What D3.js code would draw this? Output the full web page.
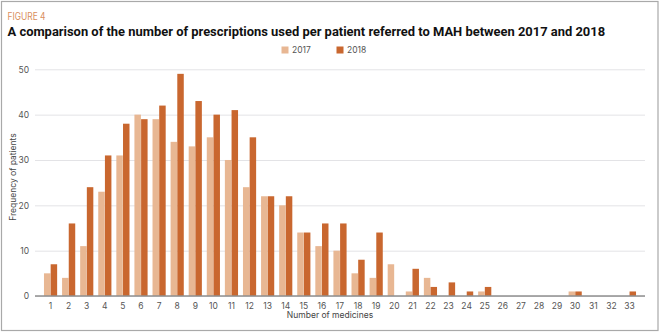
<!DOCTYPE html>
<html>
<head>
<meta charset="utf-8">
<script src="https://cdn.jsdelivr.net/npm/d3@7"></script>
<style>
  html, body { margin: 0; padding: 0; background: #ffffff; }
  svg { display: block; }
  text { font-family: "Inter", "Roboto", "Liberation Sans", sans-serif; }
</style>
</head>
<body>
<svg id="chart" width="660" height="332"></svg>
<script>
// Number of medicines (x categories)
const medicines = d3.range(1, 34).map(String);
// Frequency of patients per number of medicines
const values2017 = [5, 4, 11, 23, 31, 40, 39, 34, 33, 35, 30, 24, 22, 20, 14, 11, 10, 5, 4, 7, 1, 4, 0, 0, 1, 0, 0, 0, 0, 1, 0, 0, 0];
const values2018 = [7, 16, 24, 31, 38, 39, 42, 49, 43, 40, 41, 35, 22, 22, 14, 16, 16, 8, 14, 0, 6, 2, 3, 1, 2, 0, 0, 0, 0, 1, 0, 0, 1];
const seriesNames = ["2017", "2018"];
const seriesColors = ["#e8b793", "#c9672f"];
const yTicks = [0, 10, 20, 30, 40, 50];

const svg = d3.select("#chart");
const W = 660, H = 332;

// outer frame
svg.append("rect")
  .attr("x", 1.5).attr("y", 1.5)
  .attr("width", W - 3.5).attr("height", H - 3)
  .attr("fill", "#ffffff")
  .attr("stroke", "#a9a9a9").attr("stroke-width", 1.2);

// headings
svg.append("text")
  .attr("x", 7.5).attr("y", 19.5)
  .attr("font-size", 10).attr("fill", "#d98e5c")
  .attr("textLength", 38).attr("lengthAdjust", "spacingAndGlyphs")
  .text("FIGURE 4");

// main title: shrink the font until it fits the available width
const title = svg.append("text")
  .attr("x", 7.5).attr("y", 36)
  .attr("font-weight", 700).attr("fill", "#111")
  .style("font-family", "Roboto, sans-serif")
  .attr("font-size", 14)
  .text("A comparison of the number of prescriptions used per patient referred to MAH between 2017 and 2018");
{
  const target = 598;
  const w = title.node().getComputedTextLength();
  if (w > target) {
    const fs = 14 * target / w;
    title.attr("font-size", fs);
  }
}

const plot = { left: 35, right: 645, top: 69.3, bottom: 296 };

const x = d3.scaleBand()
  .domain(medicines)
  .range([plot.left, plot.right])
  .paddingInner(0.25)
  .paddingOuter(0.485);

const xs = d3.scaleBand()
  .domain(seriesNames)
  .range([0, x.bandwidth()])
  .padding(0.03);

const y = d3.scaleLinear()
  .domain([0, 50])
  .range([plot.bottom, plot.top]);

// gridlines + y labels
const yAxis = d3.axisLeft(y)
  .tickValues(yTicks)
  .tickSize(-(plot.right - plot.left))
  .tickPadding(6);

const gy = svg.append("g")
  .attr("transform", `translate(${plot.left},0)`)
  .call(yAxis);
gy.select(".domain").remove();
gy.selectAll(".tick line").attr("stroke", "#e3e3e6").attr("stroke-width", 1);
gy.selectAll(".tick text")
  .attr("font-size", 8.5).attr("fill", "#555")
  .attr("font-family", "Inter, Roboto, sans-serif");

// bars
const rows = medicines.map((m, i) => ({ m, vals: [values2017[i], values2018[i]] }));

const groups = svg.append("g").selectAll("g")
  .data(rows)
  .join("g")
  .attr("transform", d => `translate(${x(d.m)},0)`);

groups.selectAll("rect")
  .data(d => d.vals.map((v, k) => ({ v, k })))
  .join("rect")
  .attr("x", d => xs(seriesNames[d.k]))
  .attr("width", xs.bandwidth())
  .attr("y", d => y(d.v))
  .attr("height", d => y(0) - y(d.v))
  .attr("fill", d => seriesColors[d.k]);

// x axis
const xAxis = d3.axisBottom(x).tickSize(0).tickPadding(7);
const gx = svg.append("g")
  .attr("transform", `translate(0,${plot.bottom})`)
  .call(xAxis);
gx.select(".domain")
  .attr("stroke", "#8f8f8f").attr("stroke-width", 1.5)
  .attr("d", `M${plot.left},0H${plot.right}`);
gx.selectAll(".tick text")
  .attr("font-size", 8.5).attr("fill", "#555")
  .attr("font-family", "Inter, Roboto, sans-serif");

// axis titles
svg.append("text")
  .attr("x", 330).attr("y", 318)
  .attr("text-anchor", "middle")
  .attr("font-size", 8.5).attr("fill", "#444")
  .text("Number of medicines");

svg.append("text")
  .attr("transform", `translate(15.5,177) rotate(-90)`)
  .attr("text-anchor", "middle")
  .attr("font-size", 8.5).attr("fill", "#444")
  .text("Frequency of patients");

// legend
const legendX = [281.5, 336.5];
const legend = svg.append("g").selectAll("g")
  .data(seriesNames)
  .join("g")
  .attr("transform", (d, i) => `translate(${legendX[i]},46.5)`);
legend.append("rect")
  .attr("width", 7).attr("height", 7)
  .attr("fill", (d, i) => seriesColors[i]);
legend.append("text")
  .attr("x", 10.5).attr("y", 6.8)
  .attr("font-size", 8.5).attr("fill", "#555")
  .text(d => d);
</script>
</body>
</html>
